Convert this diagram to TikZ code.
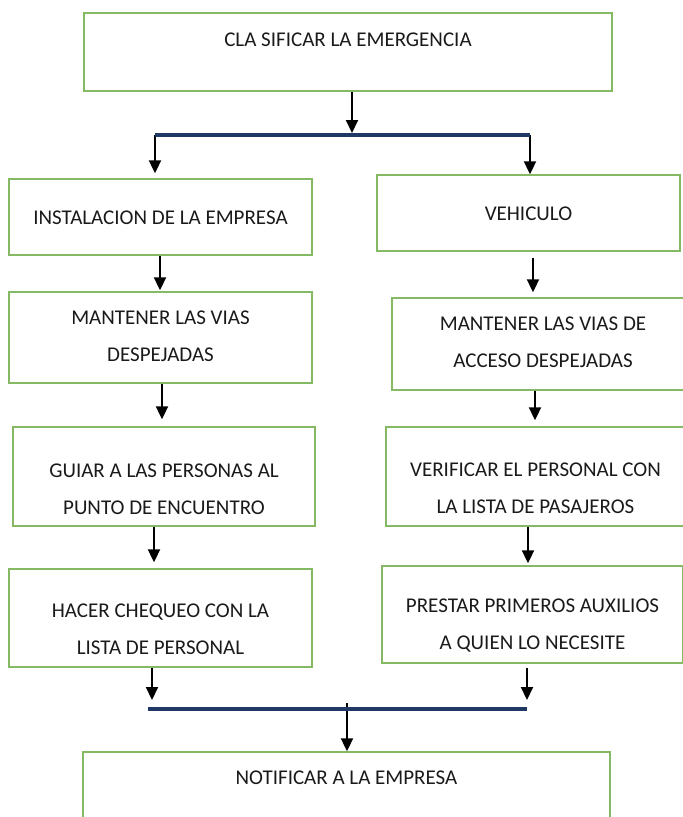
\documentclass[tikz,border=0pt]{standalone}
\usepackage{fontspec}
\setmainfont{Carlito}
\usepackage{tikz}
\usetikzlibrary{positioning,arrows.meta}
\definecolor{cajaverde}{HTML}{70AD47}
\definecolor{barraazul}{HTML}{203864}
\definecolor{textogris}{HTML}{1A1A1A}

\begin{document}
\begin{tikzpicture}[x=1pt, y=-1pt,
  caja/.style={draw=cajaverde!85, line width=1.4pt, inner sep=0pt},
  texto/.style={font=\fontsize{21}{37}\selectfont\color{textogris}, align=center, inner sep=0pt},
  flecha/.style={line width=2pt, -{Triangle[width=12pt,length=13pt]}},
  barra/.style={draw=barraazul, line width=3.5pt},
]
\useasboundingbox (0,0) rectangle (683,817);

\foreach \nm/\cx/\cy/\w/\h/\ty/\txt in {%
  clasificar/348/52/528/78/40/{CLA SIFICAR LA EMERGENCIA},
  instalacion/160.5/217/303/76/218/{INSTALACION DE LA EMPRESA},
  vehiculo/528.5/213/303/76/214/{VEHICULO},
  viasL/160.5/337.5/303/91/336/{MANTENER LAS VIAS\\DESPEJADAS},
  viasR/543/344/302/92/342/{MANTENER LAS VIAS DE\\ACCESO DESPEJADAS},
  guiar/164/476.5/302/99/489/{GUIAR A LAS PERSONAS AL\\PUNTO DE ENCUENTRO},
  verificar/535.5/476.5/299/99/488/{VERIFICAR EL PERSONAL CON\\LA LISTA DE PASAJEROS},
  chequeo/160.5/618/303/98/629.5/{HACER CHEQUEO CON LA\\LISTA DE PERSONAL},
  auxilios/532.5/614.5/301/97/625.5/{PRESTAR PRIMEROS AUXILIOS\\A QUIEN LO NECESITE},
  notificar/346.5/791/527/78/778/{NOTIFICAR A LA EMPRESA}%
} {
  \node[caja, minimum width=\w pt, minimum height=\h pt] (\nm) at (\cx,\cy) {};
  \node[texto] (\nm-txt) at (\cx,\ty) {\txt};
}

% ramas
\coordinate (ramaA) at (352,135);
\coordinate (ramaAizq) at (155,135);
\coordinate (ramaAder) at (530,135);
\coordinate (ramaB) at (347,709);
\coordinate (ramaBizq) at (148,709);
\coordinate (ramaBder) at (527,709);

\draw[flecha, shorten >=2pt] (clasificar.south -| ramaA) -- (ramaA);
\draw[flecha, shorten >=5pt] (ramaAizq) -- (instalacion.north -| ramaAizq);
\draw[flecha] (ramaAder) -- (vehiculo.north -| ramaAder);

\draw[flecha, shorten >=1pt] ([xshift=-0.5pt]instalacion.south) -- ([xshift=-0.5pt]instalacion.south |- viasL.north);
\draw[flecha, shorten <=6pt, shorten >=5pt] ([xshift=4.5pt]vehiculo.south) -- ([xshift=4.5pt]vehiculo.south |- viasR.north);
\draw[flecha, shorten >=7pt] ([xshift=1.5pt]viasL.south) -- ([xshift=1.5pt]viasL.south |- guiar.north);
\draw[flecha, shorten >=6pt] ([xshift=-8pt]viasR.south) -- ([xshift=-8pt]viasR.south |- verificar.north);
\draw[flecha, shorten >=6pt] ([xshift=-10pt]guiar.south) -- ([xshift=-10pt]guiar.south |- chequeo.north);
\draw[flecha, shorten >=2pt] ([xshift=-7.5pt]verificar.south) -- ([xshift=-7.5pt]verificar.south |- auxilios.north);

\draw[flecha, shorten >=9pt] ([xshift=-8.5pt]chequeo.south) -- ([xshift=-8.5pt]chequeo.south |- ramaB);
\draw[flecha, shorten <=4pt, shorten >=9pt] ([xshift=-5.5pt]auxilios.south) -- ([xshift=-5.5pt]auxilios.south |- ramaB);
\draw[flecha] ([yshift=6pt]ramaB) -- (notificar.north -| ramaB);

\draw[barra] (ramaAizq) -- (ramaAder);
\draw[barra] (ramaBizq) -- (ramaBder);
\end{tikzpicture}
\end{document}
